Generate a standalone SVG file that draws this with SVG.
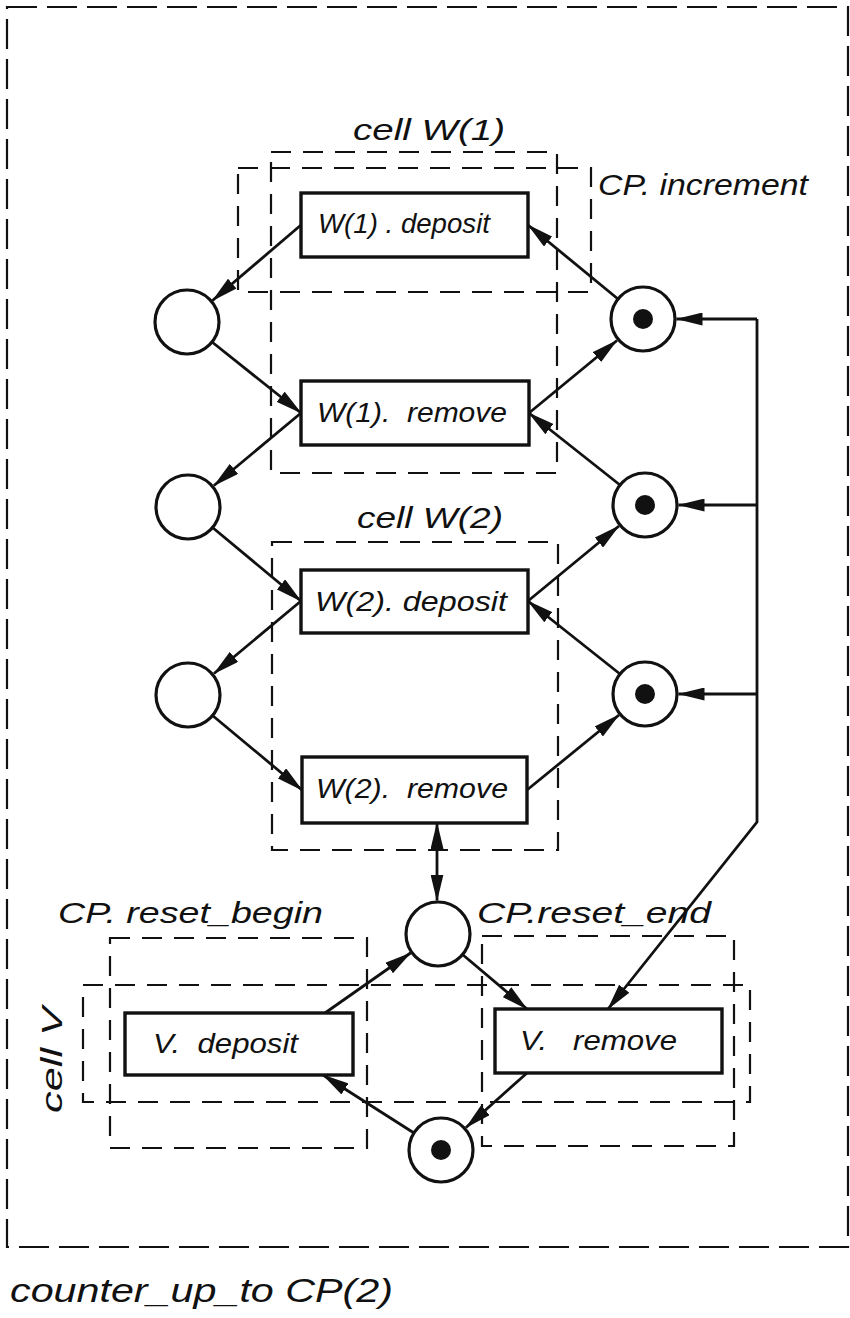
<svg xmlns="http://www.w3.org/2000/svg" width="850" height="1318" viewBox="0 0 850 1318">
  <style>
    .frame { fill: none; stroke: #111; stroke-width: 2.2; stroke-dasharray: 30 10; }
    .scope { fill: none; stroke: #111; stroke-width: 2.2; stroke-dasharray: 20 12; }
    .trans rect { fill: #fff; stroke: #111; stroke-width: 3.4; }
    .place circle.ring { fill: #fff; stroke: #111; stroke-width: 3.2; }
    .place circle.token { fill: #111; }
    .arc { fill: none; stroke: #111; stroke-width: 2.8; }
    .arc line, .arc path, .arc polyline { marker-end: url(#arr); }
    .lbl { font-family: "Liberation Sans", Arial, sans-serif; font-style: italic; fill: #111; }
    .tl { font-size: 27px; }
    .cl { font-size: 30px; }
  </style>
  <defs>
    <marker id="arr" viewBox="0 0 27 13" markerWidth="27" markerHeight="13" refX="26" refY="6.5" orient="auto-start-reverse" markerUnits="userSpaceOnUse">
      <path d="M0,0 L27,6.5 L0,13 z" fill="#111"/>
    </marker>
  </defs>

  <rect width="850" height="1318" fill="#fff"/>

  <!-- outer scope of the counter -->
  <g id="counter">
    <rect class="frame" x="7" y="7" width="841" height="1240"/>
    <text class="lbl" x="10" y="1302" font-size="33" textLength="383" lengthAdjust="spacingAndGlyphs">counter_up_to CP(2)</text>
  </g>

  <!-- scopes: cells and counter operations -->
  <g id="cpIncrement">
    <rect class="scope" x="238" y="168" width="353" height="124"/>
    <text class="lbl cl" x="598" y="195" textLength="210" lengthAdjust="spacingAndGlyphs">CP. increment</text>
  </g>
  <g id="cellW1">
    <rect class="scope" x="271" y="152" width="286" height="321"/>
    <text class="lbl cl" x="353" y="140" textLength="152" lengthAdjust="spacingAndGlyphs">cell W(1)</text>
  </g>
  <g id="cellW2">
    <rect class="scope" x="272" y="542" width="286" height="308"/>
    <text class="lbl cl" x="357" y="528" textLength="146" lengthAdjust="spacingAndGlyphs">cell W(2)</text>
  </g>
  <g id="cpResetBegin">
    <rect class="scope" x="110" y="938" width="257" height="210"/>
    <text class="lbl cl" x="58" y="923" textLength="265" lengthAdjust="spacingAndGlyphs">CP. reset_begin</text>
  </g>
  <g id="cpResetEnd">
    <rect class="scope" x="482" y="936" width="252" height="210"/>
    <text class="lbl cl" x="477" y="923" textLength="234" lengthAdjust="spacingAndGlyphs">CP.reset_end</text>
  </g>
  <g id="cellV">
    <rect class="scope" x="83" y="985" width="667" height="117"/>
    <text class="lbl cl" transform="translate(62,1113) rotate(-90)" x="0" y="0" textLength="106" lengthAdjust="spacingAndGlyphs">cell V</text>
  </g>

  <!-- connectors -->
  <g id="connectors" class="arc">
    <line x1="301" y1="225" x2="212.5" y2="300.5"/>
    <line x1="618" y1="299" x2="528" y2="225"/>
    <line x1="212" y1="342" x2="301" y2="413"/>
    <line x1="301" y1="413" x2="214" y2="485.5"/>
    <line x1="529" y1="413" x2="617" y2="340.5"/>
    <line x1="620" y1="485" x2="529" y2="413"/>
    <line x1="212.5" y1="527.5" x2="301" y2="601"/>
    <line x1="301" y1="601" x2="214" y2="673.5"/>
    <line x1="528" y1="601" x2="619" y2="526"/>
    <line x1="620" y1="674" x2="528" y2="601"/>
    <line x1="212.5" y1="715.5" x2="302" y2="790"/>
    <line x1="527" y1="790" x2="619" y2="715"/>
    <line x1="437" y1="823" x2="437" y2="900.5" style="marker-start: url(#arr)"/>
    <line x1="325" y1="1013" x2="410.5" y2="953"/>
    <line x1="462.5" y1="954.5" x2="527" y2="1009"/>
    <line x1="527" y1="1073" x2="466" y2="1127.5"/>
    <line x1="414" y1="1133" x2="323" y2="1075"/>
    <!-- counter reset feedback bus -->
    <polyline points="757,319 757,822 608,1009"/>
    <line x1="757" y1="319" x2="676.5" y2="319"/>
    <line x1="757" y1="505" x2="678.5" y2="505"/>
    <line x1="757" y1="694" x2="678.5" y2="694"/>
  </g>

  <!-- transitions -->
  <g id="W1deposit" class="trans">
    <rect x="301" y="193" width="227" height="64"/>
    <text class="lbl tl" x="318" y="233" textLength="172" lengthAdjust="spacingAndGlyphs" xml:space="preserve">W(1) . deposit</text>
  </g>
  <g id="W1remove" class="trans">
    <rect x="301" y="381" width="228" height="64"/>
    <text class="lbl tl" x="317" y="422" textLength="190" lengthAdjust="spacingAndGlyphs" xml:space="preserve">W(1).  remove</text>
  </g>
  <g id="W2deposit" class="trans">
    <rect x="301" y="570" width="227" height="63"/>
    <text class="lbl tl" x="315" y="611" textLength="192" lengthAdjust="spacingAndGlyphs" xml:space="preserve">W(2). deposit</text>
  </g>
  <g id="W2remove" class="trans">
    <rect x="302" y="757" width="225" height="66"/>
    <text class="lbl tl" x="316" y="798" textLength="192" lengthAdjust="spacingAndGlyphs" xml:space="preserve">W(2).  remove</text>
  </g>
  <g id="Vdeposit" class="trans">
    <rect x="125" y="1013" width="228" height="62"/>
    <text class="lbl tl" x="153" y="1053" textLength="145" lengthAdjust="spacingAndGlyphs" xml:space="preserve">V.  deposit</text>
  </g>
  <g id="Vremove" class="trans">
    <rect x="495" y="1009" width="227" height="64"/>
    <text class="lbl tl" x="520" y="1050" textLength="157" lengthAdjust="spacingAndGlyphs" xml:space="preserve">V.   remove</text>
  </g>

  <!-- places -->
  <g id="pL1" class="place"><circle class="ring" cx="187" cy="322" r="32"/></g>
  <g id="pL2" class="place"><circle class="ring" cx="188" cy="507" r="32"/></g>
  <g id="pL3" class="place"><circle class="ring" cx="188" cy="695" r="32"/></g>
  <g id="pR1" class="place"><circle class="ring" cx="643" cy="319" r="32"/><circle class="token" cx="643" cy="319" r="10"/></g>
  <g id="pR2" class="place"><circle class="ring" cx="645" cy="505" r="32"/><circle class="token" cx="645" cy="505" r="10"/></g>
  <g id="pR3" class="place"><circle class="ring" cx="645" cy="694" r="32"/><circle class="token" cx="645" cy="694" r="10"/></g>
  <g id="pReset" class="place"><circle class="ring" cx="438" cy="934" r="32"/></g>
  <g id="pV" class="place"><circle class="ring" cx="441" cy="1150" r="32"/><circle class="token" cx="441" cy="1150" r="10"/></g>
</svg>
